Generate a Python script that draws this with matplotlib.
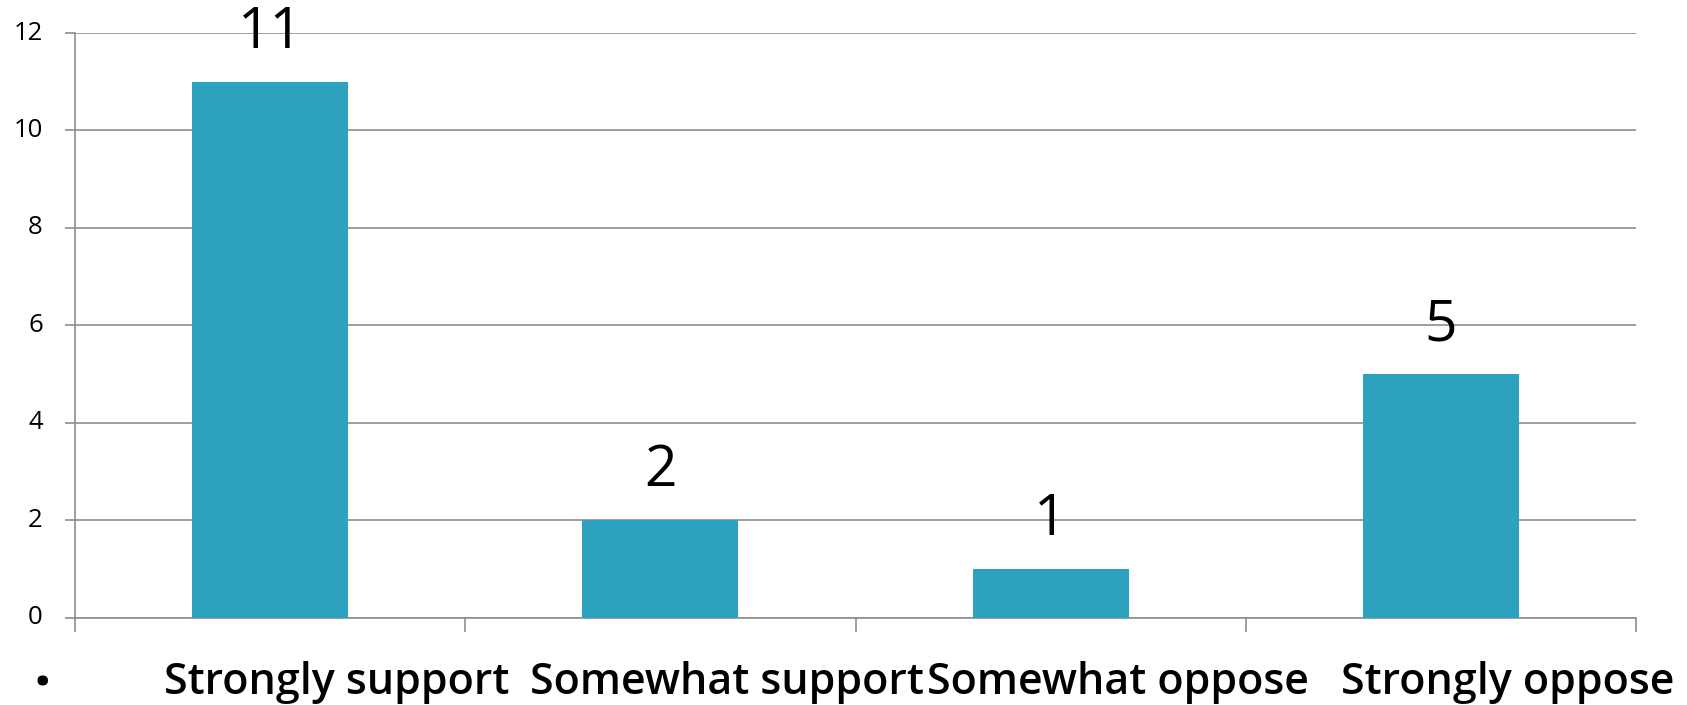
import matplotlib
matplotlib.use("Agg")
import matplotlib.pyplot as plt
import matplotlib.transforms as mtransforms
import numpy as np

categories = ["Strongly support", "Somewhat support", "Somewhat oppose", "Strongly oppose"]
values = [11, 2, 1, 5]
y_ticks = [0, 2, 4, 6, 8, 10, 12]

W, H = 1687, 705
DPI = 100
fig = plt.figure(figsize=(W / DPI, H / DPI), dpi=DPI)
plt.rcParams['font.family'] = ['Open Sans', 'DejaVu Sans']

left, right, top, bottom = 75, 1636, 33, 617.7
ax = fig.add_axes([left / W, (H - bottom) / H, (right - left) / W, (bottom - top) / H])

bar_color = "#2CA2BF"
grid_color = "#8E8E8E"

x = np.arange(len(categories))
bars = ax.bar(x, values, width=0.4, color=bar_color, zorder=3)

ax.set_xlim(-0.5, len(categories) - 0.5)
ax.set_ylim(0, 12)
ax.set_yticks(y_ticks)
ax.set_yticklabels([str(t) for t in y_ticks], fontsize=18.5, color="#000000")
ax.yaxis.grid(True, color=grid_color, linewidth=1.2, zorder=0)
ax.set_axisbelow(True)

for s in ["top", "right"]:
    ax.spines[s].set_visible(False)
for s in ["left", "bottom"]:
    ax.spines[s].set_color(grid_color)
    ax.spines[s].set_linewidth(1.2)

ax.tick_params(axis='y', length=7.2, width=1.2, color=grid_color, pad=16)
ylab_off = mtransforms.ScaledTranslation(0, 3 / DPI, fig.dpi_scale_trans)
for lab in ax.get_yticklabels():
    lab.set_transform(lab.get_transform() + ylab_off)

# major ticks at category boundaries, labels on minor ticks at centers
ax.set_xticks(np.arange(-0.5, len(categories), 1.0))
ax.set_xticklabels([])
ax.tick_params(axis='x', which='major', length=10, width=1.2, color=grid_color)
ax.set_xticks(x, minor=True)
ax.set_xticklabels(categories, minor=True, fontsize=31, fontweight='semibold', color="#000000")
ax.tick_params(axis='x', which='minor', length=0, pad=31)
offset = mtransforms.ScaledTranslation(67 / DPI, 0, fig.dpi_scale_trans)
for lab in ax.get_xticklabels(minor=True):
    lab.set_transform(lab.get_transform() + offset)

for xi, v in zip(x, values):
    ax.annotate(str(v), (xi, v), xytext=(0, 24.5), textcoords='offset points',
                ha='center', va='baseline', fontsize=41, color="#000000")

fig.text(42.7 / W, (H - 686) / H, ".", ha='center', va='baseline', fontsize=44,
         fontweight='bold', color="#000000")

fig.savefig("out.png", dpi=DPI)
